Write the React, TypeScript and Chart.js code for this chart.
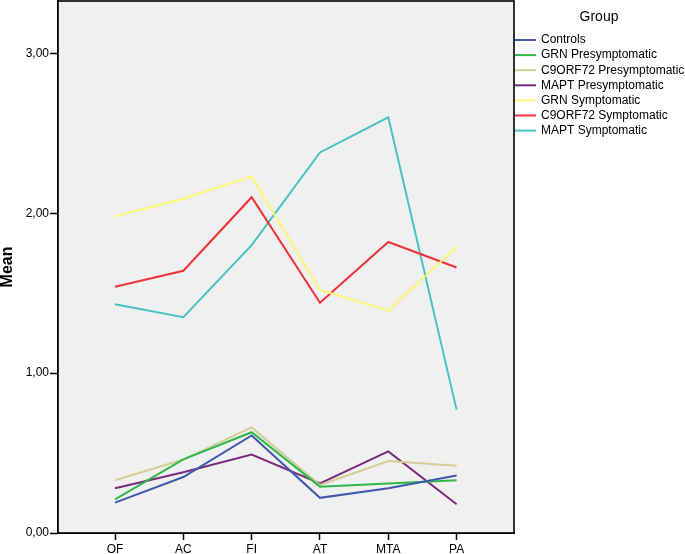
import React, { useEffect, useRef } from "react";
import { Chart, registerables } from "chart.js";

Chart.register(...registerables);

const categories = ["OF", "AC", "FI", "AT", "MTA", "PA"];
const yTicks = [0, 1, 2, 3];

const controls = [0.19, 0.35, 0.61, 0.22, 0.28, 0.36];
const grnPre = [0.21, 0.46, 0.63, 0.29, 0.31, 0.33];
const c9Pre = [0.33, 0.46, 0.66, 0.3, 0.45, 0.42];
const maptPre = [0.28, 0.38, 0.49, 0.31, 0.51, 0.18];
const grnSym = [1.98, 2.09, 2.23, 1.52, 1.39, 1.79];
const c9Sym = [1.54, 1.64, 2.1, 1.44, 1.82, 1.66];
const maptSym = [1.43, 1.35, 1.8, 2.38, 2.6, 0.77];

const seriesNames = [
  "Controls",
  "GRN Presymptomatic",
  "C9ORF72 Presymptomatic",
  "MAPT Presymptomatic",
  "GRN Symptomatic",
  "C9ORF72 Symptomatic",
  "MAPT Symptomatic",
];
const seriesValues = [controls, grnPre, c9Pre, maptPre, grnSym, c9Sym, maptSym];
const seriesColors = ["#3E58AC", "#2EB848", "#D3CE97", "#7C287D", "#FBF873", "#EF3338", "#48C2C5"];

const FONT = "'Liberation Sans', Arial, Helvetica, sans-serif";

const framePlugin = {
  id: "frame",
  beforeDatasetsDraw(chart: any) {
    const { ctx, chartArea } = chart;
    ctx.save();
    ctx.fillStyle = "#F0F0F0";
    ctx.fillRect(chartArea.left, chartArea.top, chartArea.right - chartArea.left, chartArea.bottom - chartArea.top);
    ctx.restore();
  },
  afterDraw(chart: any) {
    const { ctx, chartArea } = chart;
    ctx.save();
    ctx.strokeStyle = "#000";
    ctx.lineWidth = 1.6;
    ctx.strokeRect(chartArea.left, chartArea.top, chartArea.right - chartArea.left, chartArea.bottom - chartArea.top);
    // Y title
    ctx.translate(8, (chartArea.top + chartArea.bottom) / 2);
    ctx.rotate(-Math.PI / 2);
    ctx.fillStyle = "#000";
    ctx.font = `bold 16px ${FONT}`;
    ctx.textAlign = "center";
    ctx.textBaseline = "middle";
    ctx.fillText("Mean", 0, 0);
    ctx.restore();

    // Legend
    ctx.save();
    ctx.fillStyle = "#000";
    ctx.font = `14px ${FONT}`;
    ctx.textAlign = "center";
    ctx.textBaseline = "middle";
    ctx.fillText("Group", 599, 17);
    ctx.font = `12px ${FONT}`;
    ctx.textAlign = "left";
    const x0 = chartArea.right + 1;
    seriesNames.forEach((name, i) => {
      const y = 40 + i * 15.1;
      ctx.strokeStyle = seriesColors[i];
      ctx.lineWidth = 2;
      ctx.beginPath();
      ctx.moveTo(x0, y);
      ctx.lineTo(536, y);
      ctx.stroke();
      ctx.fillStyle = "#000";
      ctx.fillText(name, 541, y);
    });
    ctx.restore();
  },
};

export default function App() {
  const ref = useRef<HTMLCanvasElement | null>(null);
  useEffect(() => {
    if (!ref.current) return;
    const chart = new Chart(ref.current, {
      type: "line",
      data: {
        datasets: seriesNames.map((name, i) => ({
          label: name,
          data: seriesValues[i].map((v, j) => ({ x: j, y: v })),
          borderColor: seriesColors[i],
          backgroundColor: seriesColors[i],
          borderWidth: 2,
          pointRadius: 0,
          tension: 0,
          fill: false,
        })),
      },
      options: {
        responsive: false,
        animation: false,
        layout: { padding: { left: 0, right: 171, top: 1, bottom: 0 } },
        plugins: { legend: { display: false }, tooltip: { enabled: false } },
        scales: {
          x: {
            type: "linear",
            min: -0.835,
            max: 5.84,
            afterFit(scale: any) {
              scale.height = 21;
              scale.paddingLeft = 0;
              scale.paddingRight = 0;
            },
            afterBuildTicks(scale: any) {
              scale.ticks = categories.map((_, i) => ({ value: i }));
            },
            grid: {
              display: true,
              drawOnChartArea: false,
              drawTicks: true,
              tickLength: 7,
              tickWidth: 1.5,
              tickColor: "#000",
              color: "#000",
            },
            border: { display: true, color: "#000", width: 2 },
            ticks: {
              padding: 2,
              color: "#000",
              font: { family: FONT, size: 12 },
              maxRotation: 0,
              autoSkip: false,
              callback: (v: any) => categories[Math.round(Number(v))] ?? "",
            },
          },
          y: {
            type: "linear",
            min: 0,
            max: 3.327,
            afterFit(scale: any) {
              scale.width = 58;
              scale.paddingTop = 0;
              scale.paddingBottom = 0;
            },
            afterBuildTicks(scale: any) {
              scale.ticks = yTicks.map((v) => ({ value: v }));
            },
            grid: {
              display: true,
              drawOnChartArea: false,
              drawTicks: true,
              tickLength: 8,
              tickWidth: 1.5,
              tickColor: "#000",
              color: "#000",
            },
            border: { display: true, color: "#000", width: 2 },
            ticks: {
              padding: 1,
              color: "#000",
              font: { family: FONT, size: 12 },
              callback: (v: any) => Number(v).toFixed(2).replace(".", ","),
            },
          },
        },
      },
      plugins: [framePlugin],
    } as any);
    return () => chart.destroy();
  }, []);
  return (
    <div style={{ position: "absolute", left: 0, top: 0, width: 685, height: 554, background: "#fff" }}>
      <canvas ref={ref} width={685} height={554} style={{ display: "block" }} />
    </div>
  );
}
